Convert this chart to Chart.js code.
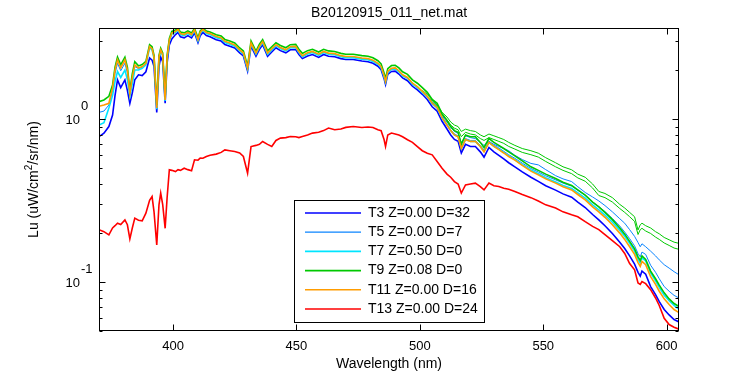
<!DOCTYPE html>
<html>
<head>
<meta charset="utf-8">
<script src="https://cdn.jsdelivr.net/npm/chart.js@4.4.0/dist/chart.umd.min.js"></script>
<style>
  html, body { margin: 0; padding: 0; background: #fff; }
  #wrap { width: 750px; height: 375px; }
</style>
</head>
<body>
<div id="wrap"><canvas id="luChart" width="750" height="375"></canvas></div>
<script>
// wavelength grid (nm)
const wavelength = [
  370, 372, 374, 375.5, 376.5, 377.5, 378.8, 380.5, 381.5, 382.5,
  383.5, 384.5, 386, 387.5, 389, 390.5, 391.5, 392.3, 393.4, 394.3,
  395, 395.8, 396.8, 397.6, 398.5, 399.5, 401, 402, 403, 404.5,
  406, 407.5, 408.7, 410.1, 411, 412.1, 413.5, 415, 417.5, 419.5,
  421, 423, 425, 427, 428.5, 430.2, 431.6, 433.6, 435, 436.3,
  438.3, 440, 441.7, 443.5, 445.7, 447.5, 449.7, 451, 452.4, 454.5,
  456.5, 459, 461, 463, 465.5, 468, 470, 473, 476.5, 479,
  481, 483, 484.3, 485.5, 486.1, 487, 488.5, 490, 491.5, 493,
  495, 497, 499, 501, 503, 505, 507, 509, 511, 512.5,
  514, 515.5, 516.8, 518.5, 520.5, 522.5, 524.5, 526, 528, 530,
  532, 534, 536, 538.5, 541.5, 545, 548, 551, 555, 558,
  561.5, 564, 567, 570, 572.5, 575, 578, 581, 583, 585,
  587, 588.4, 589.3, 590, 591.5, 593.5, 595.5, 597, 599, 601,
  603, 605
];

const t3 = [
  0.78, 0.82, 0.90, 1.06, 1.40, 1.74, 1.56, 1.74, 1.50, 1.25,
  1.45, 1.74, 1.87, 1.85, 1.95, 2.37, 2.30, 2.10, 1.10, 2.10,
  2.40, 2.25, 1.25, 2.20, 2.85, 3.10, 3.30, 3.40, 3.20, 3.15,
  3.25, 3.15, 3.38, 2.94, 3.25, 3.40, 3.25, 3.20, 3.07, 3.01,
  2.87, 2.80, 2.73, 2.55, 2.44, 1.97, 2.80, 2.43, 2.68, 2.86,
  2.43, 2.58, 2.74, 2.63, 2.55, 2.66, 2.67, 2.49, 2.35, 2.44,
  2.49, 2.39, 2.49, 2.43, 2.41, 2.35, 2.32, 2.32, 2.27, 2.25,
  2.20, 2.11, 2.01, 1.77, 1.63, 1.88, 1.96, 1.97, 1.89, 1.79,
  1.72, 1.59, 1.51, 1.42, 1.32, 1.19, 1.12, 0.97, 0.87, 0.80,
  0.75, 0.73, 0.62, 0.70, 0.68, 0.68, 0.63, 0.585, 0.67, 0.63,
  0.60, 0.57, 0.54, 0.51, 0.475, 0.44, 0.415, 0.39, 0.367, 0.348,
  0.332, 0.31, 0.287, 0.26, 0.241, 0.222, 0.199, 0.176, 0.161, 0.145,
  0.129, 0.115, 0.109, 0.117, 0.112, 0.094, 0.084, 0.076, 0.068, 0.063,
  0.059, 0.057
];

const t5 = [
  1.10, 1.12, 1.22, 1.50, 1.90, 2.20, 1.98, 2.20, 1.92, 1.42,
  1.75, 2.10, 2.04, 2.08, 2.18, 2.76, 2.68, 2.38, 1.16, 2.38,
  2.64, 2.46, 1.30, 2.38, 3.02, 3.34, 3.42, 3.52, 3.32, 3.27,
  3.37, 3.27, 3.50, 3.04, 3.37, 3.52, 3.37, 3.32, 3.18, 3.12,
  2.97, 2.90, 2.82, 2.64, 2.53, 2.05, 2.90, 2.52, 2.78, 2.96,
  2.52, 2.68, 2.84, 2.73, 2.64, 2.76, 2.77, 2.58, 2.43, 2.53,
  2.58, 2.48, 2.58, 2.52, 2.50, 2.43, 2.40, 2.40, 2.35, 2.33,
  2.28, 2.19, 2.09, 1.84, 1.69, 1.95, 2.04, 2.05, 1.97, 1.86,
  1.80, 1.66, 1.58, 1.48, 1.38, 1.26, 1.19, 1.03, 0.93, 0.86,
  0.81, 0.79, 0.67, 0.76, 0.74, 0.74, 0.69, 0.645, 0.73, 0.69,
  0.665, 0.635, 0.605, 0.575, 0.537, 0.498, 0.474, 0.449, 0.424, 0.405,
  0.388, 0.366, 0.341, 0.311, 0.291, 0.271, 0.246, 0.221, 0.203, 0.185,
  0.167, 0.150, 0.143, 0.153, 0.148, 0.127, 0.115, 0.105, 0.094, 0.088,
  0.083, 0.080
];

const t7 = [
  0.92, 0.95, 1.17, 1.40, 1.70, 1.96, 1.80, 2.00, 1.75, 1.38,
  1.65, 2.00, 2.00, 2.05, 2.15, 2.74, 2.66, 2.36, 1.15, 2.36,
  2.62, 2.44, 1.29, 2.36, 3.00, 3.32, 3.40, 3.50, 3.30, 3.25,
  3.35, 3.25, 3.48, 3.02, 3.35, 3.50, 3.35, 3.30, 3.16, 3.10,
  2.95, 2.88, 2.80, 2.62, 2.51, 2.03, 2.88, 2.50, 2.76, 2.94,
  2.50, 2.66, 2.82, 2.71, 2.62, 2.74, 2.75, 2.56, 2.41, 2.51,
  2.56, 2.46, 2.56, 2.50, 2.48, 2.41, 2.38, 2.38, 2.33, 2.31,
  2.26, 2.17, 2.07, 1.82, 1.68, 1.93, 2.02, 2.03, 1.95, 1.84,
  1.78, 1.64, 1.56, 1.46, 1.37, 1.24, 1.17, 1.01, 0.92, 0.85,
  0.80, 0.78, 0.66, 0.75, 0.73, 0.73, 0.68, 0.635, 0.72, 0.68,
  0.655, 0.625, 0.595, 0.565, 0.525, 0.487, 0.462, 0.437, 0.412, 0.392,
  0.375, 0.353, 0.328, 0.298, 0.278, 0.258, 0.233, 0.208, 0.191, 0.173,
  0.155, 0.138, 0.131, 0.141, 0.135, 0.114, 0.102, 0.093, 0.083, 0.077,
  0.072, 0.068
];

const t9 = [
  1.28, 1.31, 1.38, 1.62, 2.08, 2.40, 2.15, 2.40, 2.08, 1.50,
  1.90, 2.25, 2.12, 2.16, 2.26, 2.86, 2.78, 2.46, 1.22, 2.46,
  2.72, 2.55, 1.36, 2.46, 3.12, 3.45, 3.52, 3.60, 3.42, 3.38,
  3.47, 3.38, 3.60, 3.15, 3.47, 3.60, 3.47, 3.42, 3.29, 3.23,
  3.08, 3.01, 2.93, 2.73, 2.62, 2.12, 3.01, 2.61, 2.88, 3.07,
  2.62, 2.78, 2.94, 2.83, 2.74, 2.86, 2.87, 2.68, 2.53, 2.63,
  2.68, 2.58, 2.68, 2.62, 2.60, 2.53, 2.50, 2.50, 2.45, 2.43,
  2.38, 2.28, 2.18, 1.92, 1.77, 2.04, 2.13, 2.14, 2.06, 1.95,
  1.88, 1.74, 1.66, 1.56, 1.46, 1.32, 1.25, 1.08, 0.98, 0.90,
  0.85, 0.83, 0.70, 0.80, 0.78, 0.78, 0.72, 0.67, 0.76, 0.72,
  0.69, 0.66, 0.63, 0.595, 0.555, 0.51, 0.485, 0.46, 0.432, 0.41,
  0.392, 0.368, 0.342, 0.31, 0.29, 0.268, 0.242, 0.215, 0.197, 0.178,
  0.160, 0.143, 0.136, 0.145, 0.138, 0.117, 0.105, 0.096, 0.086, 0.079,
  0.074, 0.071
];

const t11 = [
  1.20, 1.22, 1.25, 1.55, 2.00, 2.31, 2.06, 2.31, 2.00, 1.44,
  1.80, 2.15, 2.06, 2.10, 2.20, 2.79, 2.70, 2.40, 1.17, 2.40,
  2.66, 2.48, 1.31, 2.40, 3.05, 3.37, 3.45, 3.55, 3.35, 3.30,
  3.40, 3.30, 3.53, 3.07, 3.40, 3.55, 3.40, 3.35, 3.21, 3.15,
  3.00, 2.93, 2.85, 2.66, 2.55, 2.06, 2.93, 2.54, 2.80, 2.99,
  2.54, 2.70, 2.86, 2.75, 2.66, 2.78, 2.79, 2.60, 2.45, 2.55,
  2.60, 2.50, 2.60, 2.54, 2.52, 2.45, 2.42, 2.42, 2.37, 2.35,
  2.30, 2.20, 2.10, 1.85, 1.70, 1.96, 2.05, 2.06, 1.98, 1.87,
  1.80, 1.66, 1.58, 1.48, 1.38, 1.25, 1.18, 1.02, 0.92, 0.85,
  0.80, 0.78, 0.66, 0.75, 0.73, 0.73, 0.68, 0.63, 0.72, 0.68,
  0.65, 0.62, 0.59, 0.56, 0.52, 0.48, 0.455, 0.43, 0.405, 0.385,
  0.368, 0.345, 0.32, 0.29, 0.27, 0.25, 0.225, 0.20, 0.183, 0.165,
  0.148, 0.132, 0.125, 0.134, 0.128, 0.108, 0.097, 0.088, 0.079, 0.073,
  0.068, 0.065
];

const t13 = [
  0.21, 0.204, 0.195, 0.215, 0.222, 0.230, 0.226, 0.241, 0.225, 0.184,
  0.215, 0.247, 0.240, 0.238, 0.265, 0.318, 0.335, 0.27, 0.169, 0.298,
  0.352, 0.30, 0.214, 0.330, 0.489, 0.485, 0.477, 0.490, 0.485, 0.500,
  0.490, 0.482, 0.563, 0.560, 0.576, 0.575, 0.59, 0.60, 0.61, 0.625,
  0.648, 0.64, 0.633, 0.62, 0.590, 0.466, 0.679, 0.69, 0.70, 0.729,
  0.70, 0.679, 0.74, 0.765, 0.77, 0.782, 0.78, 0.77, 0.782, 0.80,
  0.821, 0.83, 0.85, 0.881, 0.86, 0.87, 0.89, 0.901, 0.888, 0.895,
  0.888, 0.86, 0.85, 0.75, 0.679, 0.80, 0.821, 0.81, 0.80, 0.78,
  0.747, 0.72, 0.679, 0.64, 0.618, 0.604, 0.55, 0.50, 0.46, 0.44,
  0.414, 0.40, 0.352, 0.395, 0.40, 0.405, 0.385, 0.368, 0.405, 0.39,
  0.386, 0.377, 0.372, 0.360, 0.345, 0.330, 0.315, 0.298, 0.285, 0.270,
  0.259, 0.252, 0.235, 0.220, 0.210, 0.196, 0.180, 0.165, 0.150, 0.130,
  0.119, 0.099, 0.097, 0.101, 0.098, 0.090, 0.080, 0.072, 0.060, 0.055,
  0.053, 0.0515
];

// second traces that split off the bundle past 500 nm (not in legend)
const _ = null;
const t9b = [
  _, _, _, _, _, _, _, _, _, _,  _, _, _, _, _, _, _, _, _, _,
  _, _, _, _, _, _, _, _, _, _,  _, _, _, _, _, _, _, _, _, _,
  _, _, _, _, _, _, _, _, _, _,  _, _, _, _, _, _, _, _, _, _,
  _, _, _, _, _, _, _, _, _, _,  _, _, _, _, _, _, _, _, _, _,
  _, _, _, 1.50, 1.42, 1.31, 1.22, 1.10, 1.03, 0.96,
  0.92, 0.90, 0.84, 0.868, 0.85, 0.84, 0.80, 0.78, 0.81, 0.79,
  0.77, 0.75, 0.72, 0.69, 0.66, 0.64, 0.618, 0.58, 0.54, 0.51,
  0.489, 0.46, 0.44, 0.40, 0.36, 0.35, 0.33, 0.30, 0.285, 0.268,
  0.252, 0.209, 0.225, 0.230, 0.222, 0.215, 0.204, 0.198, 0.188, 0.182,
  0.176, 0.173
];
const t9c = [
  _, _, _, _, _, _, _, _, _, _,  _, _, _, _, _, _, _, _, _, _,
  _, _, _, _, _, _, _, _, _, _,  _, _, _, _, _, _, _, _, _, _,
  _, _, _, _, _, _, _, _, _, _,  _, _, _, _, _, _, _, _, _, _,
  _, _, _, _, _, _, _, _, _, _,  _, _, _, _, _, _, _, _, _, _,
  _, _, _, 1.46, 1.38, 1.28, 1.19, 1.06, 0.99, 0.92,
  0.88, 0.86, 0.78, 0.83, 0.81, 0.80, 0.76, 0.74, 0.77, 0.75,
  0.73, 0.71, 0.68, 0.655, 0.625, 0.605, 0.585, 0.55, 0.51, 0.485,
  0.463, 0.436, 0.416, 0.378, 0.34, 0.33, 0.31, 0.283, 0.268, 0.252,
  0.236, 0.196, 0.210, 0.214, 0.206, 0.199, 0.189, 0.183, 0.174, 0.168,
  0.162, 0.159
];
const t5b = [
  _, _, _, _, _, _, _, _, _, _,  _, _, _, _, _, _, _, _, _, _,
  _, _, _, _, _, _, _, _, _, _,  _, _, _, _, _, _, _, _, _, _,
  _, _, _, _, _, _, _, _, _, _,  _, _, _, _, _, _, _, _, _, _,
  _, _, _, _, _, _, _, _, _, _,  _, _, _, _, _, _, _, _, _, _,
  _, _, _, 1.48, 1.39, 1.27, 1.20, 1.05, 0.96, 0.89,
  0.84, 0.82, 0.716, 0.79, 0.77, 0.76, 0.72, 0.69, 0.73, 0.70,
  0.68, 0.66, 0.64, 0.60, 0.565, 0.535, 0.524, 0.49, 0.45, 0.43,
  0.414, 0.385, 0.355, 0.333, 0.315, 0.295, 0.27, 0.245, 0.230, 0.210,
  0.191, 0.175, 0.165, 0.172, 0.165, 0.155, 0.145, 0.137, 0.128, 0.122,
  0.116, 0.111
];

const seriesNames = ['T3 Z=0.00 D=32', 'T5 Z=0.00 D=7', 'T7 Z=0.50 D=0', 'T9 Z=0.08 D=0', 'T11 Z=0.00 D=16', 'T13 Z=0.00 D=24'];
const seriesValues = [t3, t5, t7, t9, t11, t13];
const seriesColors = ['#0000ff', '#0a84ff', '#00e5ff', '#00c800', '#ff9c00', '#ff0000'];
const seriesWidths = [1.6, 1, 1.6, 1.6, 1.6, 1.6];

const xTicks = [400, 450, 500, 550, 600];
const yMajor = [0.1, 1];
const yMinor = [0.05, 0.06, 0.07, 0.08, 0.09, 0.2, 0.3, 0.4, 0.5, 0.6, 0.7, 0.8, 0.9, 2, 3];

const FONT = '"Liberation Sans", Arial, Helvetica, sans-serif';

function pairs(values) {
    return wavelength.map((w, i) => ({ x: w, y: values[i] }));
}

const datasets = seriesValues.map((vals, i) => ({
    label: seriesNames[i],
    data: pairs(vals),
    borderColor: seriesColors[i],
    borderWidth: seriesWidths[i],
    order: 6 - i
}));
datasets.push(
    { label: 'T9b', data: pairs(t9b), borderColor: seriesColors[3], borderWidth: 1, order: 10 },
    { label: 'T9c', data: pairs(t9c), borderColor: seriesColors[3], borderWidth: 1, order: 10 },
    { label: 'T5b', data: pairs(t5b), borderColor: seriesColors[1], borderWidth: 1, order: 10 }
);

// MATLAB-like frame, ticks, labels and legend
const matlabFrame = {
    id: 'matlabFrame',
    afterDraw(chart) {
        const ctx = chart.ctx;
        const a = chart.chartArea;
        const xs = chart.scales.x;
        const ys = chart.scales.y;
        const L = Math.round(a.left) + 0.5, R = Math.round(a.right) - 0.5;
        const T = Math.round(a.top) + 0.5, B = Math.round(a.bottom) - 0.5;
        ctx.save();
        ctx.strokeStyle = '#000';
        ctx.fillStyle = '#000';
        ctx.lineWidth = 1;
        ctx.strokeRect(L, T, R - L, B - T);

        ctx.beginPath();
        xTicks.forEach(v => {
            const px = Math.round(xs.getPixelForValue(v)) + 0.5;
            ctx.moveTo(px, B); ctx.lineTo(px, B - 6);
            ctx.moveTo(px, T); ctx.lineTo(px, T + 6);
        });
        yMajor.forEach(v => {
            const py = Math.round(ys.getPixelForValue(v)) + 0.5;
            ctx.moveTo(L, py); ctx.lineTo(L + 6, py);
            ctx.moveTo(R, py); ctx.lineTo(R - 6, py);
        });
        yMinor.forEach(v => {
            const py = Math.round(ys.getPixelForValue(v)) + 0.5;
            ctx.moveTo(L, py); ctx.lineTo(L + 3, py);
            ctx.moveTo(R, py); ctx.lineTo(R - 3, py);
        });
        ctx.stroke();

        // x tick labels
        ctx.font = '13px ' + FONT;
        ctx.textAlign = 'center';
        ctx.textBaseline = 'alphabetic';
        xTicks.forEach(v => ctx.fillText(String(v), xs.getPixelForValue(v), 350));

        // y tick labels 10^n
        yMajor.forEach(v => {
            const py = ys.getPixelForValue(v);
            const ex = Math.round(Math.log10(v));
            ctx.textAlign = 'right';
            ctx.fillText('10', 80, py + 4.5);
            ctx.textAlign = 'left';
            ctx.fillText(String(ex), 81, py - 8.8);
        });

        // titles
        ctx.font = '14px ' + FONT;
        ctx.textAlign = 'center';
        const cx = (a.left + a.right) / 2;
        ctx.fillText('B20120915_011_net.mat', cx, 17);
        ctx.fillText('Wavelength (nm)', cx, 368);

        ctx.save();
        ctx.translate(38, (a.top + a.bottom) / 2);
        ctx.rotate(-Math.PI / 2);
        const p1 = 'Lu (uW/cm', p2 = '2', p3 = '/sr/nm)';
        ctx.font = '14px ' + FONT;
        const w1 = ctx.measureText(p1).width, w3 = ctx.measureText(p3).width;
        ctx.font = '10px ' + FONT;
        const w2 = ctx.measureText(p2).width;
        let x0 = -(w1 + w2 + w3) / 2;
        ctx.textAlign = 'left';
        ctx.font = '14px ' + FONT;
        ctx.fillText(p1, x0, 0);
        ctx.font = '10px ' + FONT;
        ctx.fillText(p2, x0 + w1, -6);
        ctx.font = '14px ' + FONT;
        ctx.fillText(p3, x0 + w1 + w2, 0);
        ctx.restore();

        // legend box
        const box = { left: 294.5, top: 200.5, right: 484.5, bottom: 322.5 };
        ctx.fillStyle = '#fff';
        ctx.fillRect(box.left, box.top, box.right - box.left, box.bottom - box.top);
        ctx.strokeStyle = '#000';
        ctx.lineWidth = 1;
        ctx.strokeRect(box.left, box.top, box.right - box.left, box.bottom - box.top);
        ctx.font = '14px ' + FONT;
        ctx.textAlign = 'left';
        ctx.textBaseline = 'middle';
        seriesNames.forEach((name, i) => {
            const ry = 213 + i * 19.2;
            ctx.beginPath();
            ctx.strokeStyle = seriesColors[i];
            ctx.lineWidth = seriesWidths[i] === 1 ? 1.2 : 1.6;
            ctx.moveTo(305, ry);
            ctx.lineTo(361, ry);
            ctx.stroke();
            ctx.fillStyle = '#000';
            ctx.fillText(name, 368, ry);
        });
        ctx.restore();
    }
};

new Chart(document.getElementById('luChart'), {
    type: 'line',
    data: { datasets: datasets },
    options: {
        responsive: false,
        devicePixelRatio: 1,
        animation: false,
        layout: { padding: { top: 28, right: 71, left: 0, bottom: 0 } },
        elements: {
            line: { tension: 0, fill: false },
            point: { radius: 0, hoverRadius: 0 }
        },
        plugins: {
            legend: { display: false },
            title: { display: false },
            tooltip: { enabled: false }
        },
        scales: {
            x: {
                type: 'linear',
                min: 370,
                max: 605,
                grid: { display: false },
                border: { display: false },
                ticks: { display: false },
                afterFit: s => { s.height = 44; }
            },
            y: {
                type: 'logarithmic',
                min: 0.0502,
                max: 3.62,
                grid: { display: false },
                border: { display: false },
                ticks: { display: false },
                afterFit: s => { s.width = 99; }
            }
        }
    },
    plugins: [matlabFrame]
});
</script>
</body>
</html>
